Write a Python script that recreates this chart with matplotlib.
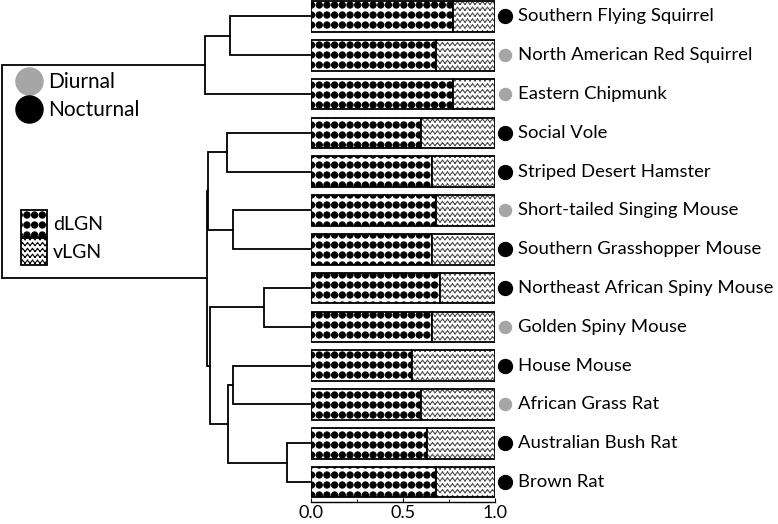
import warnings
import numpy as np
import matplotlib
matplotlib.use("Agg")
import matplotlib.pyplot as plt
from matplotlib import hatch as mhatch
from matplotlib.path import Path
from matplotlib.patches import Patch
from matplotlib.lines import Line2D

warnings.filterwarnings("ignore")

species = ["Southern Flying Squirrel", "North American Red Squirrel", "Eastern Chipmunk",
           "Social Vole", "Striped Desert Hamster", "Short-tailed Singing Mouse",
           "Southern Grasshopper Mouse", "Northeast African Spiny Mouse", "Golden Spiny Mouse",
           "House Mouse", "African Grass Rat", "Australian Bush Rat", "Brown Rat"]
dlgn = [0.77, 0.68, 0.77, 0.60, 0.66, 0.68, 0.66, 0.70, 0.66, 0.55, 0.60, 0.63, 0.68]
diurnal = [False, True, True, False, False, True, False, False, True, False, True, False, False]

# dendrogram merges (child a, child b, height); leaves are 0-12, new nodes get 13, 14, ...
merges = [
    (0, 1, 0.26),
    (13, 2, 0.34),
    (3, 4, 0.27),
    (5, 6, 0.25),
    (15, 16, 0.33),
    (7, 8, 0.15),
    (9, 10, 0.25),
    (11, 12, 0.075),
    (19, 20, 0.265),
    (18, 21, 0.325),
    (17, 22, 0.335),
    (14, 23, 1.0),
]

xticks = [0.0, 0.5, 1.0]
xticklabels = ["0.0", "0.5", "1.0"]


# custom hatches: big black dots ('d') and zigzag lines ('z')
class BigDots(mhatch.HatchPatternBase):
    def __init__(self, hatch, density):
        self.nx, self.ny = 13, 10
        circ = Path.unit_circle()
        self.cv, self.cc = circ.vertices, circ.codes
        self.num_vertices = self.nx * self.ny * len(self.cv) if "d" in hatch else 0

    def set_vertices_and_codes(self, vertices, codes):
        r = 0.031
        vs, cs = [], []
        for i in range(self.ny):
            for j in range(self.nx):
                vs.append(self.cv * r + [(j + 0.5) / self.nx, (i + 0.5) / self.ny])
                cs.append(self.cc)
        vertices[:] = np.concatenate(vs)
        codes[:] = np.concatenate(cs)


class ZigZag(mhatch.HatchPatternBase):
    def __init__(self, hatch, density):
        self.rows, self.waves = 17, 20
        self.num_vertices = self.rows * self.waves * 4 if "z" in hatch else 0

    def set_vertices_and_codes(self, vertices, codes):
        xs = np.linspace(0, 1, 2 * self.waves + 1)
        amp = 0.015
        segs = []
        for i in range(self.rows):
            y0 = (i + 0.5) / self.rows
            ys = y0 + amp * np.where(np.arange(len(xs)) % 2 == 0, -1, 1)
            pts = np.column_stack([xs, ys])
            s = np.empty((2 * (len(xs) - 1), 2))
            s[0::2] = pts[:-1]
            s[1::2] = pts[1:]
            segs.append(s)
        vertices[:] = np.concatenate(segs)
        codes[0::2] = Path.MOVETO
        codes[1::2] = Path.LINETO


mhatch._hatch_types.extend([BigDots, ZigZag])

plt.rcParams['font.family'] = ['Lato', 'DejaVu Sans']
plt.rcParams['hatch.linewidth'] = 0.8

W, H = 778, 524
fig = plt.figure(figsize=(W / 100, H / 100), dpi=100)

ylim = (12.515, -0.425)
ax = fig.add_axes([311 / W, 22 / H, 184 / W, 502 / H])
dax = fig.add_axes([0, 22 / H, 311 / W, 502 / H])

rows = np.arange(len(species))
dlgn = np.array(dlgn)
bh = 0.79

# bars
ax.barh(rows, dlgn, height=bh, color="white", edgecolor="black", hatch="d", linewidth=1.3)
ax.barh(rows, 1 - dlgn, left=dlgn, height=bh, color="white", edgecolor="#505050",
        hatch="z", linewidth=0)
ax.barh(rows, 1 - dlgn, left=dlgn, height=bh, fill=False, edgecolor="black", linewidth=1.3)

for i, name in enumerate(species):
    if diurnal[i]:
        ax.scatter(1.055, i, s=75, color="#a6a6a6", clip_on=False, zorder=3)
    else:
        ax.scatter(1.055, i, s=100, color="black", clip_on=False, zorder=3)
    ax.text(1.125, i, name, va="center", ha="left", fontsize=13.3, clip_on=False)

ax.set_xlim(0, 1)
ax.set_ylim(*ylim)
ax.set_xticks(xticks)
ax.set_xticklabels(xticklabels, fontsize=13)
ax.set_xticks([0.25, 0.75], minor=True)
ax.tick_params(axis="x", which="major", direction="in", length=3, pad=2.5)
ax.tick_params(axis="x", which="minor", direction="in", length=2)
ax.set_yticks([])
for s in ["left", "right", "top"]:
    ax.spines[s].set_visible(False)
ax.spines["bottom"].set_linewidth(1.0)

# dendrogram
pos = {i: (float(i), 0.0) for i in rows}
node = len(species)
for a, b, h in merges:
    ya, ha = pos[a]
    yb, hb = pos[b]
    dax.plot([ha, h, h, hb], [ya, ya, yb, yb], color="black", lw=1.3,
             solid_joinstyle="miter")
    pos[node] = ((ya + yb) / 2, h)
    node += 1

dax.set_xlim(1.005, -0.003)
dax.set_ylim(*ylim)
dax.axis("off")

# legends
h1 = [Line2D([], [], marker="o", ls="none", ms=19.5, mfc="#a6a6a6", mec="#a6a6a6"),
      Line2D([], [], marker="o", ls="none", ms=19.5, mfc="black", mec="black")]
leg1 = fig.legend(h1, ["Diurnal", "Nocturnal"], loc="upper left",
                  bbox_to_anchor=(16 / W, 1 - 72 / H), frameon=False, fontsize=15,
                  handlelength=1.25, handletextpad=0.3, labelspacing=0.4,
                  borderpad=0, borderaxespad=0)

h2 = [Patch(facecolor="white", edgecolor="black", hatch="d", lw=1.3),
      Patch(facecolor="white", edgecolor="black", hatch="z", lw=1.3)]
leg2 = fig.legend(h2, ["dLGN", "vLGN"], loc="upper left",
                  bbox_to_anchor=(21 / W, 1 - 210 / H), frameon=False, fontsize=14,
                  handlelength=1.35, handleheight=1.75, handletextpad=0.3,
                  labelspacing=0.08, borderpad=0, borderaxespad=0)

fig.savefig("out.png", dpi=100)
